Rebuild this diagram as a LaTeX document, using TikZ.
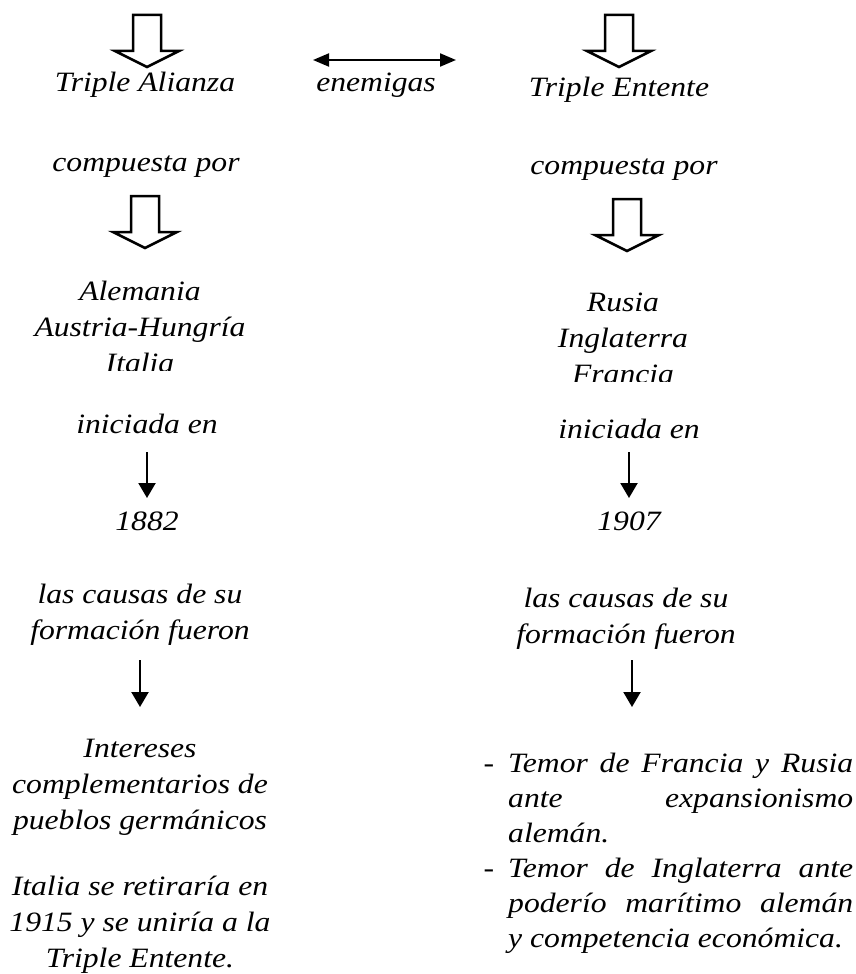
\documentclass[tikz,border=0pt]{standalone}
\usepackage{fontspec}
\setmainfont{Liberation Serif}[FakeStretch=1.13]
\usetikzlibrary{arrows.meta,calc}
\tikzset{
  txt/.style = {font=\itshape\fontsize{28}{36}\selectfont, inner sep=0pt, align=center, anchor=base},
  thinarrow/.style = {line width=2.2pt, -{Triangle[width=17pt,length=15pt]}},
  botharrow/.style = {line width=2pt, {Triangle[width=13pt,length=16pt]}-{Triangle[width=13pt,length=16pt]}},
  hollow/.style = {line width=2.5pt, line join=miter, fill=white}
}
% hollow down arrow, #1 = coordinate at its top
\newcommand{\hollowdown}[1]{%
  \draw[hollow] ($(#1)+(-14,0)$) -- ++(28,0) -- ++(0,36) -- ++(18,0)
    -- ($(#1)+(0,52)$) -- ($(#1)+(-32,36)$) -- ++(18,0) -- cycle;}

\begin{document}
\begin{tikzpicture}[x=1pt, y=-1pt]
  \useasboundingbox (0,0) rectangle (856,974);

  % top row
  \coordinate (ha1) at (147,15);
  \coordinate (he1) at (619,15);
  \hollowdown{ha1}
  \hollowdown{he1}
  \node[txt] (ta) at (145,92) {Triple Alianza};
  \node[txt] (en) at (376,92) {enemigas};
  \node[txt] (te) at (619,96) {Triple Entente};
  \coordinate (dl) at (313,60);
  \coordinate (dr) at (456,60);
  \draw[botharrow] (dl) -- (dr);

  % left column
  \node[txt] (cl) at (146,171) {compuesta por};
  \coordinate (ha2) at (145,196);
  \hollowdown{ha2}
  \begin{scope}
    \clip (0,260) rectangle (428,370);
    \node[txt] (ml) at (140,372) {Alemania\\Austria-Hungría\\Italia};
  \end{scope}
  \node[txt] (il) at (147,433) {iniciada en};
  \node[txt] (yl) at (147,530) {1882};
  \draw[thinarrow] ($(il.base)+(0,19)$) -- ($(yl.base)+(0,-32)$);
  \node[txt] (cfl) at (140,639) {las causas de su\\formación fueron};
  \node[txt] (intl) at (140,829) {Intereses\\complementarios de\\pueblos germánicos};
  \draw[thinarrow] ($(cfl.base)+(0,21)$) -- ($(intl.base)+(0,-122)$);
  \node[txt] (itl) at (140,967) {Italia se retiraría en\\1915 y se uniría a la\\Triple Entente.};

  % right column
  \node[txt] (cr) at (624,174) {compuesta por};
  \coordinate (he2) at (627,199);
  \hollowdown{he2}
  \begin{scope}
    \clip (428,270) rectangle (856,381);
    \node[txt] (mr) at (623,383) {Rusia\\Inglaterra\\Francia};
  \end{scope}
  \node[txt] (ir) at (629,438) {iniciada en};
  \node[txt] (yr) at (629,530) {1907};
  \draw[thinarrow] ($(ir.base)+(0,14)$) -- ($(yr.base)+(0,-32)$);
  \node[txt] (cfr) at (626,643) {las causas de su\\formación fueron};
  \node[txt, font=\itshape\fontsize{28}{35}\selectfont, text width=345pt, align=justify,
        anchor=base west] (lst) at (508,772)
    {\leavevmode\llap{-\hspace{14pt}}Temor de Francia y Rusia\linebreak
     ante expansionismo\linebreak alemán.\\
     \leavevmode\llap{-\hspace{14pt}}Temor de Inglaterra ante\linebreak
     poderío marítimo alemán\linebreak y competencia económica.};
  \draw[thinarrow] ($(cfr.base)+(6,17)$) -- ($(lst.base west)+(124,-65)$);
\end{tikzpicture}
\end{document}
